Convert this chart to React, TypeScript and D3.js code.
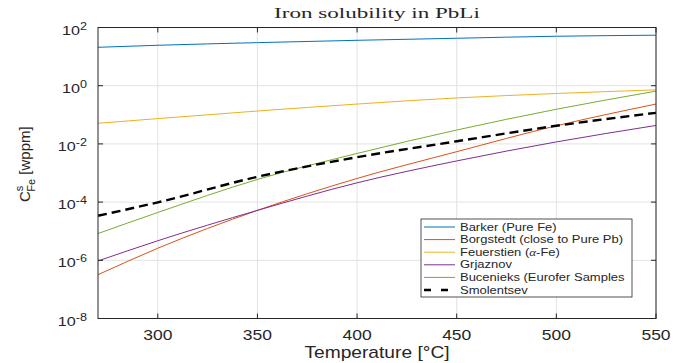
import * as d3 from "d3";

// temperature grid (°C) the curves were read at
const temps = [270, 300, 350, 400, 450, 500, 550];

// solubility of Fe in PbLi, wppm
const barker = [20.9, 24.5, 30.2, 36.3, 42.7, 50.1, 54.3];
const borgstedt = [3.2e-7, 2.6e-6, 5.2e-5, 6.5e-4, 5.4e-3, 0.042, 0.234];
const feuerstien = [0.051, 0.074, 0.135, 0.234, 0.38, 0.54, 0.72];
const grjaznov = [9.5e-7, 4.7e-6, 5.2e-5, 4.6e-4, 2.6e-3, 0.0117, 0.043];
const bucenieks = [8.3e-6, 4.4e-5, 6.0e-4, 4.7e-3, 0.03, 0.155, 0.65];
const smolentsev = [3.4e-5, 9.8e-5, 7.4e-4, 3.5e-3, 0.0123, 0.042, 0.117];

const xTicks = [300, 350, 400, 450, 500, 550];
const yTickExps = [-8, -6, -4, -2, 0, 2];

const legendNames = [
    "Barker (Pure Fe)",
    "Borgstedt (close to Pure Pb)",
    "Feuerstien (α-Fe)",
    "Grjaznov",
    "Bucenieks (Eurofer Samples",
    "Smolentsev",
];

type Series = { name: string; values: number[]; color: string; dashed: boolean };

const series: Series[] = [
    { name: legendNames[0], values: barker, color: "#0072BD", dashed: false },
    { name: legendNames[1], values: borgstedt, color: "#D95319", dashed: false },
    { name: legendNames[2], values: feuerstien, color: "#EDB120", dashed: false },
    { name: legendNames[3], values: grjaznov, color: "#7E2F8E", dashed: false },
    { name: legendNames[4], values: bucenieks, color: "#77AC30", dashed: false },
    { name: legendNames[5], values: smolentsev, color: "#000000", dashed: true },
];

const SANS = "'Liberation Sans', Arial, Helvetica, sans-serif";
const SERIF = "'Liberation Serif', 'Times New Roman', serif";
const AX = "#262626";
const SX = 1.25; // the original figure is stretched sideways

function StretchText(props: {
    x: number;
    y: number;
    anchor?: string;
    size: number;
    family?: string;
    sx?: number;
    children: React.ReactNode;
}) {
    const { x, y, anchor = "middle", size, family = SANS, sx = SX, children } = props;
    return (
        <g transform={`translate(${x},${y}) scale(${sx},1)`}>
            <text textAnchor={anchor} fontSize={size} fontFamily={family} fill={AX}>
                {children}
            </text>
        </g>
    );
}

export default function App() {
    const width = 679;
    const height = 363;
    const margin = { top: 27.5, right: 23, bottom: 44.5, left: 98 };
    const left = margin.left;
    const right = width - margin.right;
    const top = margin.top;
    const bottom = height - margin.bottom;

    const x = d3.scaleLinear().domain([270, 550]).range([left, right]);
    const y = d3.scaleLog().domain([1e-8, 1e2]).range([bottom, top]);

    const line = d3
        .line<number>()
        .x((_, i) => x(temps[i]))
        .y((d) => y(d))
        .curve(d3.curveMonotoneX);

    const tickLen = 5;

    // legend box
    const lg = { x: 421, y: 219, w: 211, h: 78, row: 12.6 };

    return (
        <svg
            width={width}
            height={height}
            style={{ position: "absolute", left: 0, top: 0, background: "#fff" }}
        >
            <defs>
                <clipPath id="plot-clip">
                    <rect x={left} y={top} width={right - left} height={bottom - top} />
                </clipPath>
            </defs>
            <rect x={0} y={0} width={width} height={height} fill="#fff" />

            {/* grid */}
            <g stroke="#e3e3e3" strokeWidth={1}>
                {xTicks.map((t) => (
                    <line key={t} x1={x(t)} x2={x(t)} y1={top} y2={bottom} />
                ))}
                {yTickExps.map((e) => (
                    <line key={e} x1={left} x2={right} y1={y(10 ** e)} y2={y(10 ** e)} />
                ))}
            </g>

            {/* curves */}
            <g clipPath="url(#plot-clip)" fill="none">
                {series.map((s) => (
                    <path
                        key={s.name}
                        d={line(s.values) ?? ""}
                        stroke={s.color}
                        strokeWidth={s.dashed ? 2.4 : 1}
                        strokeDasharray={s.dashed ? "9,5" : undefined}
                    />
                ))}
            </g>

            {/* box + ticks */}
            <rect x={left} y={top} width={right - left} height={bottom - top} fill="none" stroke={AX} strokeWidth={1} />
            <g stroke={AX} strokeWidth={1}>
                {xTicks.map((t) => (
                    <g key={t}>
                        <line x1={x(t)} x2={x(t)} y1={bottom} y2={bottom - tickLen} />
                        <line x1={x(t)} x2={x(t)} y1={top} y2={top + tickLen} />
                    </g>
                ))}
                {yTickExps.map((e) => (
                    <g key={e}>
                        <line x1={left} x2={left + tickLen} y1={y(10 ** e)} y2={y(10 ** e)} />
                        <line x1={right} x2={right - tickLen} y1={y(10 ** e)} y2={y(10 ** e)} />
                    </g>
                ))}
            </g>

            {/* x tick labels */}
            {xTicks.map((t) => (
                <StretchText key={t} x={x(t)} y={bottom + 21} size={14}>
                    {t}
                </StretchText>
            ))}

            {/* y tick labels */}
            {yTickExps.map((e) => (
                <StretchText key={e} x={87} y={y(10 ** e) + 7} anchor="end" size={13.5} sx={1.2}>
                    10
                    <tspan fontSize={10.5} dy={-5}>
                        {e}
                    </tspan>
                </StretchText>
            ))}

            {/* axis labels */}
            <StretchText x={(left + right) / 2} y={358} size={16} sx={1.2}>
                Temperature [°C]
            </StretchText>
            <text
                transform={`translate(30,202) rotate(-90)`}
                fontSize={15}
                fontFamily={SANS}
                fill={AX}
            >
                C
                <tspan fontSize={11} dy={-7}>
                    s
                </tspan>
                <tspan fontSize={11} dx={-6} dy={12}>
                    Fe
                </tspan>
                <tspan dy={-5}> [wppm]</tspan>
            </text>

            {/* title */}
            <StretchText x={(left + right) / 2} y={18} size={14} family={SERIF} sx={1.65}>
                Iron solubility in PbLi
            </StretchText>

            {/* legend */}
            <rect x={lg.x} y={lg.y} width={lg.w} height={lg.h} fill="#fff" stroke={AX} strokeWidth={0.8} />
            {series.map((s, i) => {
                const cy = lg.y + 8 + i * lg.row;
                return (
                    <g key={s.name}>
                        <line
                            x1={lg.x + 3}
                            x2={lg.x + 34}
                            y1={cy}
                            y2={cy}
                            stroke={s.color}
                            strokeWidth={s.dashed ? 2.4 : 1}
                            strokeDasharray={s.dashed ? "7,10" : undefined}
                        />
                        <StretchText x={lg.x + 39} y={cy + 3.5} anchor="start" size={10} sx={1.3}>
                            {s.name.includes("α") ? (
                                <>
                                    Feuerstien (
                                    <tspan fontFamily={SERIF} fontStyle="italic">
                                        α
                                    </tspan>
                                    -Fe)
                                </>
                            ) : (
                                s.name
                            )}
                        </StretchText>
                    </g>
                );
            })}
        </svg>
    );
}
